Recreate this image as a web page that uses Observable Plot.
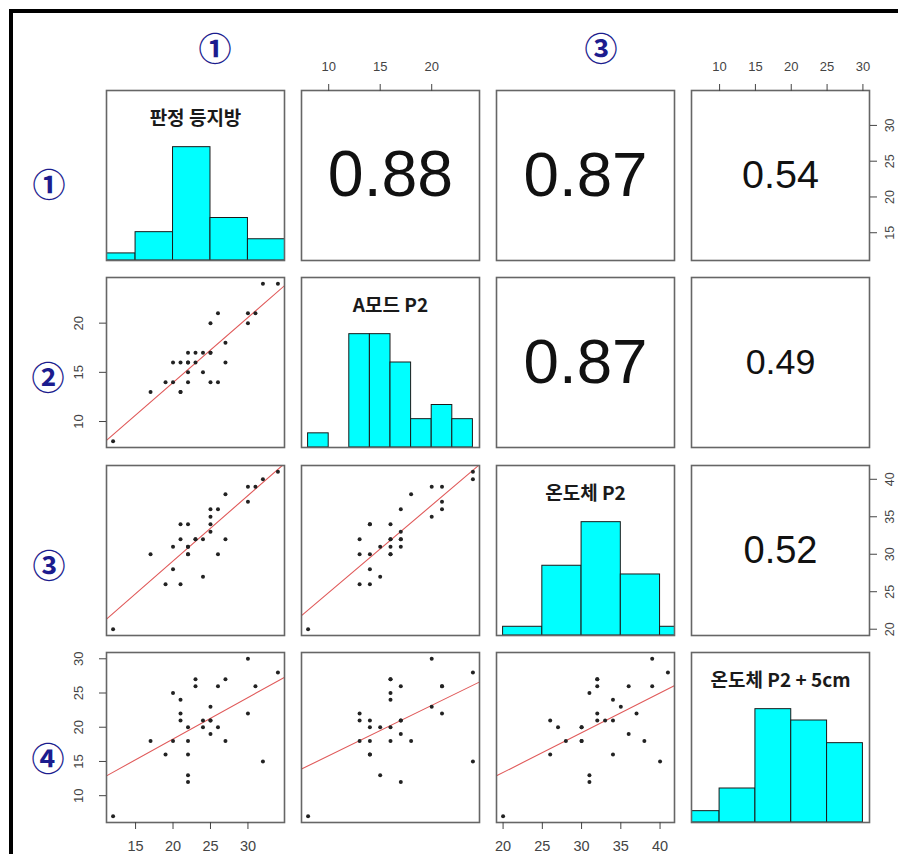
<!DOCTYPE html>
<html><head><meta charset="utf-8">
<script src="https://cdn.jsdelivr.net/npm/d3@7"></script>
<script src="https://cdn.jsdelivr.net/npm/@observablehq/plot@0.6"></script>
<style>
body{margin:0;background:#fff;}
#wrap{position:relative;width:898px;height:854px;overflow:hidden;background:#fff;}
#border{position:absolute;left:9px;top:9px;width:1000px;height:1000px;border-left:4px solid #000;border-top:4px solid #000;}
.cell{position:absolute;}
.num{position:absolute;transform:translate(-50%,-50%);font-family:"Noto Sans CJK KR";font-size:33px;font-weight:bold;color:#1c1c8e;line-height:1;white-space:nowrap;}
</style></head><body><div id="wrap"><div id="border"></div></div>
<script>
const varNames = ["판정 등지방", "A모드 P2", "온도체 P2", "온도체 P2 + 5cm"];
const v1 = [12,17,19,20,20,21,21,21,22,22,22,22,22,23,23,24,24,25,25,25,25,26,26,27,27,30,30,31,32,34];
const v2 = [8,13,14,14,16,13,13,16,15,17,14,16,16,17,16,15,17,20,14,17,17,21,14,18,16,20,21,21,24,24];
const v3 = [20,30,26,28,31,26,32,34,31,31,34,30,30,32,32,27,32,35,34,36,33,36,30,38,32,39,37,39,40,41];
const v4 = [7,18,16,18,25,21,22,24,13,12,16,20,18,26,27,20,21,23,21,19,21,26,20,18,27,30,22,26,15,28];
const histBreaks = [[10,15,20,25,30,35],[8,10,12,14,16,18,20,22,24],[20,25,30,35,40,45],[5,10,15,20,25,30]];
const axisTicks = [[15,20,25,30],[10,15,20],[20,25,30,35,40],[10,15,20,25,30]];
const corRow = [0,0,0,1,1,2];
const corCol = [1,2,3,2,3,3];
const corText = ["0.88","0.87","0.54","0.87","0.49","0.52"];
const rowMarks = ["①","②","③","④"];
const colMarks = ["①","","③",""];

// ---- layout ----
const PW = 178, PH = 170, L0 = 106, T0 = 90, SX = 195, SY = 187.3, M = 40;
const rowMarkPos = [[49,183],[48,376],[49,564],[48,757]];
const colMarkPos = [[215,47],[0,0],[601,47],[0,0]];

const vars = [v1, v2, v3, v4];
const dom = vars.map(v => { const [a, b] = d3.extent(v); const e = (b - a) * 0.04; return [a - e, b + e]; });
const wrap = document.getElementById("wrap");
const tickFont = "Liberation Sans, Arial, sans-serif";

function bins(values, br) {
  const c = new Array(br.length - 1).fill(0);
  for (const v of values) {
    for (let k = 0; k < br.length - 1; k++) {
      if ((v > br[k] || (k === 0 && v === br[0])) && v <= br[k + 1]) { c[k]++; break; }
    }
  }
  const mx = d3.max(c);
  return c.map((n, k) => ({x0: br[k], x1: br[k + 1], h: n / mx}));
}

for (let i = 0; i < 4; i++) {
  for (let j = 0; j < 4; j++) {
    const xDom = dom[j];
    const yDom = i === j ? [0, 1.5] : dom[i];
    const marks = [];
    if (i === j) {
      marks.push(Plot.rect(bins(vars[i], histBreaks[i]), {x1: "x0", x2: "x1", y1: 0, y2: "h", fill: "#00ffff", stroke: "#1a1a1a", strokeWidth: 1, clip: true}));
      marks.push(Plot.text([varNames[i]], {x: (xDom[0] + xDom[1]) / 2, y: 1.5 * (0.5 + 1 / 3), text: d => d, fontSize: 19, fontWeight: "bold", fontFamily: "Noto Sans CJK KR", fill: "#1a1a1a"}));
    } else if (i > j) {
      const xs = vars[j], ys = vars[i];
      const pts = xs.map((x, k) => ({x, y: ys[k]}));
      const mx = d3.mean(xs), my = d3.mean(ys);
      const b = d3.sum(xs, (x, k) => (x - mx) * (ys[k] - my)) / d3.sum(xs, x => (x - mx) ** 2);
      const a = my - b * mx;
      marks.push(Plot.line(xDom.map(x => ({x, y: a + b * x})), {x: "x", y: "y", stroke: "#e05a5a", strokeWidth: 1.1, clip: true}));
      marks.push(Plot.dot(pts, {x: "x", y: "y", r: 2, fill: "#222", stroke: null}));
    } else {
      const k = corCol.findIndex((c, q) => c === j && corRow[q] === i);
      const r = +corText[k];
      marks.push(Plot.text([corText[k]], {frameAnchor: "middle", text: d => d, fontSize: 0.8 * PW * r / 1.946, fontFamily: tickFont, fill: "#111"}));
    }
    marks.push(Plot.frame({stroke: "#666", strokeWidth: 1.6}));
    const ax = {color: "#444", fontSize: 13, fontFamily: tickFont, tickSize: 7, label: null};
    if (i === 0 && j % 2 === 1) marks.push(Plot.axisX(axisTicks[j], {...ax, anchor: "top", tickPadding: 13}));
    if (i === 3 && j % 2 === 0) marks.push(Plot.axisX(axisTicks[j], {...ax, anchor: "bottom", tickPadding: 11, fontSize: 14.5}));
    if (j === 0 && i % 2 === 1) {
      marks.push(Plot.axisY(axisTicks[i], {...ax, anchor: "left", tickFormat: () => ""}));
      marks.push(Plot.text(axisTicks[i], {y: d => d, text: d => String(d), frameAnchor: "left", dx: -28, rotate: -90, textAnchor: "middle", lineAnchor: "middle", fontSize: 13, fontFamily: tickFont, fill: "#444"}));
    }
    if (j === 3 && i % 2 === 0) {
      marks.push(Plot.axisY(axisTicks[i], {...ax, anchor: "right", tickFormat: () => ""}));
      marks.push(Plot.text(axisTicks[i], {y: d => d, text: d => String(d), frameAnchor: "right", dx: 20, rotate: -90, textAnchor: "middle", lineAnchor: "middle", fontSize: 12.5, fontFamily: tickFont, fill: "#444"}));
    }
    const svg = Plot.plot({
      width: PW + 2 * M, height: PH + 2 * M, margin: M,
      x: {domain: xDom, axis: null, label: null},
      y: {domain: yDom, axis: null, label: null},
      style: {background: "transparent", overflow: "visible", fontFamily: tickFont},
      marks
    });
    const cell = document.createElement("div");
    cell.className = "cell";
    cell.style.left = (L0 + j * SX - M) + "px";
    cell.style.top = (T0 + i * SY - M) + "px";
    cell.style.width = (PW + 2 * M) + "px";
    cell.appendChild(svg);
    wrap.appendChild(cell);
  }
}

rowMarks.forEach((t, i) => {
  const d = document.createElement("div");
  d.className = "num"; d.textContent = t;
  d.style.left = rowMarkPos[i][0] + "px"; d.style.top = rowMarkPos[i][1] + "px";
  wrap.appendChild(d);
});
colMarks.forEach((t, j) => {
  if (!t) return;
  const d = document.createElement("div");
  d.className = "num"; d.textContent = t;
  d.style.left = colMarkPos[j][0] + "px"; d.style.top = colMarkPos[j][1] + "px";
  wrap.appendChild(d);
});
</script></body></html>
